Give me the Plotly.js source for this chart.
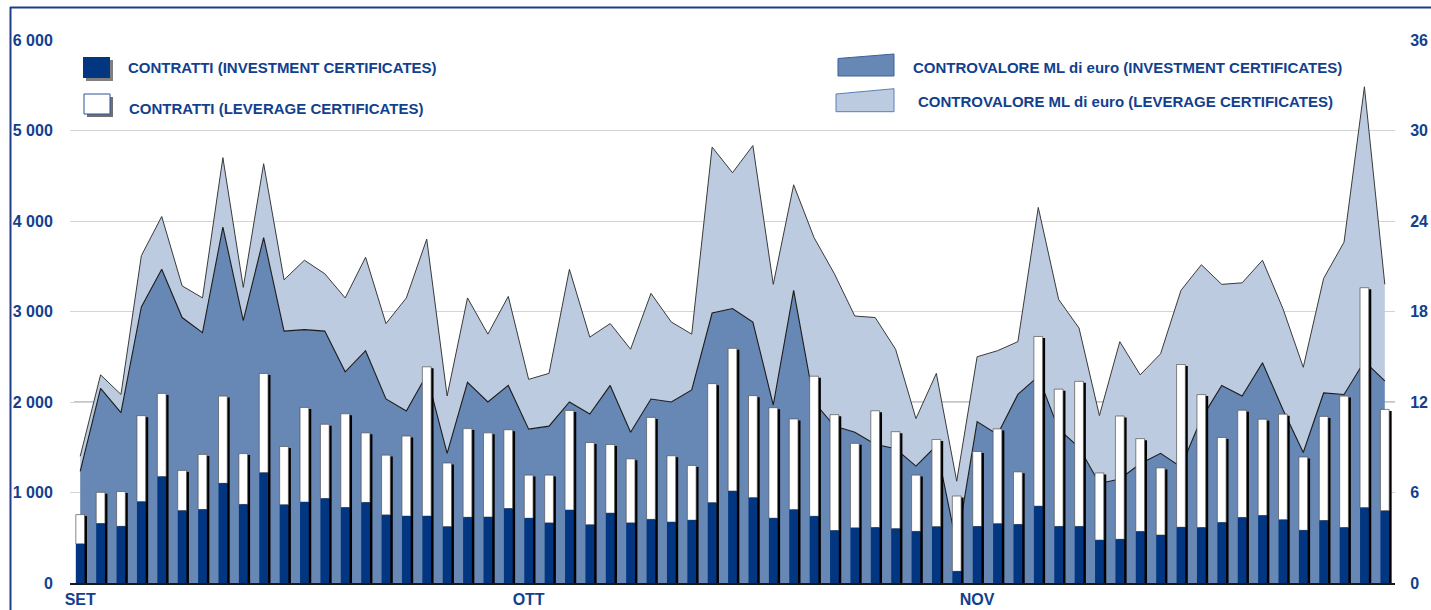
<!DOCTYPE html>
<html>
<head>
<meta charset="utf-8">
<script src="https://cdn.plot.ly/plotly-3.0.1.min.js"></script>
<style>
html,body{margin:0;padding:0;background:#ffffff;}
#chart{width:1431px;height:610px;}
</style>
</head>
<body>
<div id="chart"></div>
<script>
// ---------------- DATA ----------------
const monthLabels = ['SET', 'OTT', 'NOV'];
const monthStart = [0, 22, 44];

// number of contracts (left axis)
const contrattiInv = [432,657,626,898,1175,799,812,1101,868,1218,
  864,894,933,834,890,752,739,739,622,726,
  729,823,716,664,806,643,772,664,703,673,
  694,887,1016,943,716,810,737,579,609,613,
  600,570,622,129,625,655,647,849,625,625,
  474,483,569,530,616,612,668,724,746,698,
  582,690,612,832,797];
const contrattiLev = [324,345,385,951,920,445,609,964,562,1097,
  644,1046,821,1036,769,661,885,1650,704,980,
  930,870,476,528,1101,909,758,708,1127,733,
  605,1316,1577,1127,1221,1003,1548,1281,934,1290,
  1072,622,964,832,828,1048,581,1875,1517,1603,
  742,1362,1026,742,1798,1470,940,1185,1064,1168,
  810,1151,1453,2431,1121];

// traded value, million euro (right axis)
const controvaloreInv = [7.4,12.9,11.3,18.3,20.8,17.6,16.6,23.6,17.4,22.9,
  16.7,16.8,16.7,14.0,15.4,12.2,11.4,13.8,8.6,13.3,
  12.0,13.1,10.2,10.4,12.0,11.2,13.1,10.0,12.2,12.0,
  12.8,17.9,18.2,17.3,11.8,19.4,12.0,10.4,10.0,9.2,
  8.9,7.75,9.1,2.5,10.7,9.85,12.5,13.7,10.2,9.0,
  6.6,6.9,7.9,8.6,7.7,10.9,13.1,12.4,14.6,11.5,
  8.65,12.6,12.5,14.7,13.4];
const controvaloreLev = [1.0,0.9,1.2,3.4,3.5,2.1,2.3,4.6,2.2,4.9,
  3.4,4.6,3.8,4.9,6.2,5.0,7.5,9.0,3.8,5.6,
  4.5,5.9,3.3,3.5,8.8,5.1,4.1,5.5,7.0,5.3,
  3.7,11.0,9.0,11.7,8.0,7.0,10.9,10.1,7.7,8.4,
  6.6,3.15,4.8,4.25,4.3,5.55,3.5,11.2,8.6,7.9,
  4.5,9.1,5.9,6.6,11.7,10.2,6.7,7.5,6.8,6.7,
  5.65,7.6,10.1,18.2,6.4];

const leftTickVals = [0,1000,2000,3000,4000,5000,6000];
const leftTickText = ['0','1 000','2 000','3 000','4 000','5 000','6 000'];
const rightTickVals = [0,6,12,18,24,30,36];
const rightTickText = ['0','6','12','18','24','30','36'];

const legendNames = [
  'CONTRATTI (INVESTMENT CERTIFICATES)',
  'CONTRATTI (LEVERAGE CERTIFICATES)',
  'CONTROVALORE ML di euro (INVESTMENT CERTIFICATES)',
  'CONTROVALORE ML di euro (LEVERAGE CERTIFICATES)'
];

// ---------------- GEOMETRY / STYLE ----------------
const W = 1431, H = 610, L = 70, R = 36, T = 40, B = 27;
const pw = W - L - R, ph = H - T - B;
const px = v => (v - L) / pw;          // pixel x -> paper
const py = v => (H - B - v) / ph;      // pixel y -> paper

const NAVY = '#023680';
const TXT = '#123f8e';
const INV_FILL = '#6787b5';
const LEV_FILL = '#bccbdf';
const FONT = 'Liberation Sans, Arial, sans-serif';

const n = contrattiInv.length;
const xs = contrattiInv.map((_, i) => i);
const contrattiTot = contrattiInv.map((v, i) => v + contrattiLev[i]);

const barW = 0.43;
const shadowShift = 0.12;
const shadowDrop = 1.5 * 6000 / ph;

const traces = [
  {
    type: 'scatter', x: xs, y: controvaloreInv, yaxis: 'y', stackgroup: 'cv',
    mode: 'lines', line: {color: '#1a1a1a', width: 1.1}, fillcolor: INV_FILL,
    hoverinfo: 'skip', name: legendNames[2]
  },
  {
    type: 'scatter', x: xs, y: controvaloreLev, yaxis: 'y', stackgroup: 'cv',
    mode: 'lines', line: {color: '#3a3a3a', width: 1}, fillcolor: LEV_FILL,
    hoverinfo: 'skip', name: legendNames[3]
  },
  {
    type: 'bar', x: xs, y: contrattiTot.map(v => v - shadowDrop), yaxis: 'y2',
    width: barW, offset: -barW / 2 + shadowShift,
    marker: {color: '#000000', line: {width: 0}}, hoverinfo: 'skip', name: 'shadow'
  },
  {
    type: 'bar', x: xs, y: contrattiLev, base: contrattiInv, yaxis: 'y2',
    width: barW, offset: -barW / 2,
    marker: {color: '#ffffff', line: {color: '#555555', width: 0.7}}, name: legendNames[1]
  },
  {
    type: 'bar', x: xs, y: contrattiInv, yaxis: 'y2',
    width: barW, offset: -barW / 2,
    marker: {color: NAVY, line: {width: 0}}, name: legendNames[0]
  }
];

const tickFont = {family: FONT, size: 16, color: TXT, weight: 'bold'};
const legFont = {family: FONT, size: 15, color: TXT, weight: 'bold'};

const shapes = [];
// darker reference lines
[6, 12, 18].forEach(v => shapes.push({
  type: 'line', xref: 'x', yref: 'y', x0: -0.3, x1: n - 0.5, y0: v, y1: v,
  line: {color: '#8c8c8c', width: 1.2}, layer: 'below'
}));
// outer frame (top + left)
shapes.push({type: 'line', xref: 'paper', yref: 'paper', x0: px(10), x1: px(W + 5), y0: py(7.5), y1: py(7.5), line: {color: '#1d3f8a', width: 2}});
shapes.push({type: 'line', xref: 'paper', yref: 'paper', x0: px(10.5), x1: px(10.5), y0: py(7), y1: py(H + 5), line: {color: '#1d3f8a', width: 2}});

function rect(x0, y0, x1, y1, fill, lineColor, lw) {
  return {type: 'rect', xref: 'paper', yref: 'paper', x0: px(x0), x1: px(x1), y0: py(y1), y1: py(y0),
    fillcolor: fill, line: {color: lineColor || fill, width: lw || 0}};
}
function poly(pts, fill, lineColor) {
  const d = pts.map((p, i) => (i ? 'L' : 'M') + px(p[0]).toFixed(5) + ',' + py(p[1]).toFixed(5)).join(' ') + ' Z';
  return {type: 'path', xref: 'paper', yref: 'paper', path: d, fillcolor: fill, line: {color: lineColor, width: 1}};
}
// legend icons
shapes.push(rect(86, 60, 113, 81, '#808080'));
shapes.push(rect(83, 57, 110, 78, NAVY));
shapes.push(rect(87, 97, 113, 117, '#707070'));
shapes.push(rect(84, 94, 110, 114, '#ffffff', '#2d5096', 1));
shapes.push(poly([[838, 58.5], [894, 54], [894, 76], [838, 76]], INV_FILL, '#3c5f9e'));
shapes.push(poly([[836, 94], [894, 88.7], [894, 111.7], [836, 111.7]], LEV_FILL, '#5b7fb8'));

const annotations = [
  {text: legendNames[0], x: px(126), y: py(67)},
  {text: legendNames[1], x: px(127), y: py(108)},
  {text: legendNames[2], x: px(911), y: py(68)},
  {text: legendNames[3], x: px(916), y: py(101)}
].map(a => Object.assign(a, {xref: 'paper', yref: 'paper', xanchor: 'left', yanchor: 'middle', showarrow: false, font: legFont}));

const layout = {
  width: W, height: H,
  margin: {l: L, r: R, t: T, b: B, pad: 0},
  paper_bgcolor: '#ffffff', plot_bgcolor: '#ffffff',
  barmode: 'overlay', showlegend: false,
  font: {family: FONT, color: TXT},
  xaxis: {
    range: [-0.5, n - 0.5], tickmode: 'array', tickvals: monthStart, ticktext: monthLabels,
    ticks: 'outside', ticklen: 1, tickcolor: 'rgba(0,0,0,0)', tickfont: tickFont,
    showgrid: false, zeroline: false, showline: true, linecolor: '#1a1a1a', linewidth: 1.5,
    fixedrange: true
  },
  yaxis: {
    side: 'right', range: [0, 36], tickmode: 'array', tickvals: rightTickVals, ticktext: rightTickText,
    ticks: 'outside', ticklen: 11, tickcolor: 'rgba(0,0,0,0)', tickfont: tickFont,
    showgrid: true, gridcolor: '#d4d4d4', gridwidth: 1, zeroline: false, showline: false, fixedrange: true
  },
  yaxis2: {
    side: 'left', overlaying: 'y', range: [0, 6000], tickmode: 'array', tickvals: leftTickVals, ticktext: leftTickText,
    ticks: 'outside', ticklen: 13, tickcolor: 'rgba(0,0,0,0)', tickfont: tickFont,
    showgrid: false, zeroline: false, showline: false, fixedrange: true
  },
  shapes: shapes,
  annotations: annotations
};

Plotly.newPlot('chart', traces, layout, {displayModeBar: false, staticPlot: true});
</script>
</body>
</html>
